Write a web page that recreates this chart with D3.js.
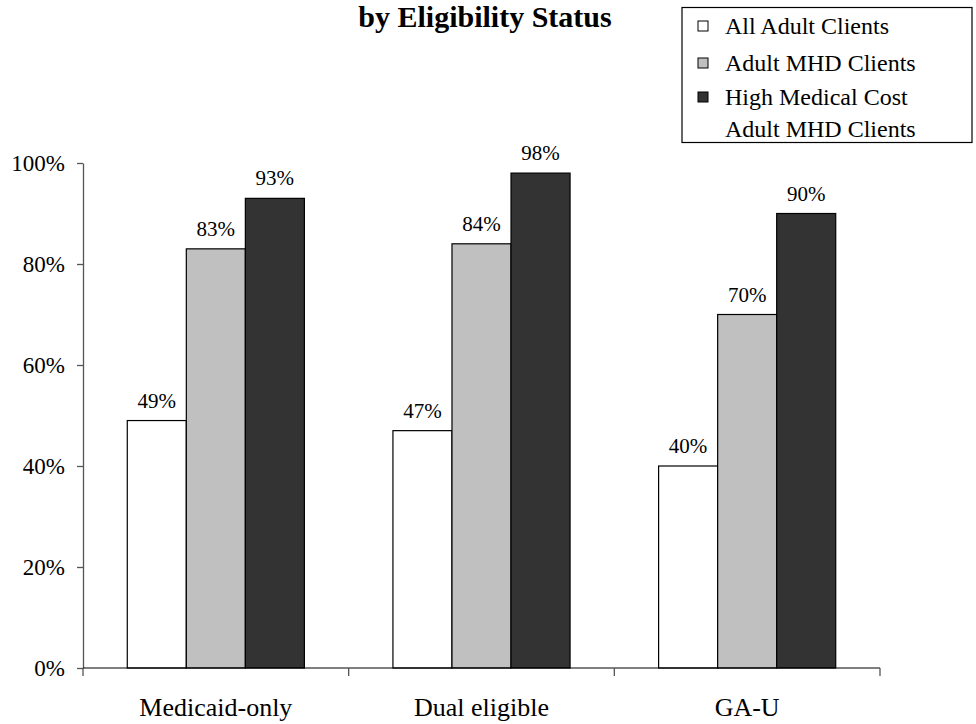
<!DOCTYPE html>
<html>
<head>
<meta charset="utf-8">
<script src="https://cdn.jsdelivr.net/npm/d3@7"></script>
<style>
  html, body { margin: 0; padding: 0; background: #fff; }
  svg text { font-family: "Liberation Serif", "Times New Roman", serif; fill: #000; }
</style>
</head>
<body>
<svg id="chart" width="976" height="724"></svg>
<script>
// Eligibility groups along the x axis
const categories = ["Medicaid-only", "Dual eligible", "GA-U"];
// Client populations, one bar per group
const seriesNames = ["All Adult Clients", "Adult MHD Clients", "High Medical Cost Adult MHD Clients"];
// Share of clients in each group (fraction)
const allAdult = [0.49, 0.47, 0.40];
const adultMHD = [0.83, 0.84, 0.70];
const highCostMHD = [0.93, 0.98, 0.90];
// Y axis tick values
const yTicks = [0, 0.2, 0.4, 0.6, 0.8, 1.0];

const seriesValues = [allAdult, adultMHD, highCostMHD];
const fills = ["#ffffff", "#c0c0c0", "#333333"];

const svg = d3.select("#chart");

const plotLeft = 83, plotRight = 880, plotTop = 163, plotBottom = 668;

const y = d3.scaleLinear().domain([0, 1]).range([plotBottom, plotTop]);
const x0 = d3.scaleBand().domain(categories).range([plotLeft, plotRight]).padding(0);
const x1 = d3.scaleBand().domain(d3.range(seriesNames.length))
  .range([0, x0.bandwidth()]).paddingInner(0).paddingOuter(0.75);

// Title (second line of the heading)
svg.append("text")
  .attr("x", 485).attr("y", 27)
  .attr("text-anchor", "middle")
  .style("font-size", "30px").style("font-weight", "bold")
  .text("by Eligibility Status");

// Bars
const groups = svg.append("g").selectAll("g")
  .data(categories).join("g")
  .attr("transform", c => `translate(${x0(c)},0)`);

groups.selectAll("rect")
  .data((c, ci) => seriesValues.map((vals, si) => ({ si, v: vals[ci] })))
  .join("rect")
  .attr("x", d => x1(d.si))
  .attr("width", x1.bandwidth())
  .attr("y", d => y(d.v))
  .attr("height", d => y(0) - y(d.v))
  .attr("fill", d => fills[d.si])
  .attr("stroke", "#000")
  .attr("stroke-width", 1.2);

// Value labels above bars
groups.selectAll("text.val")
  .data((c, ci) => seriesValues.map((vals, si) => ({ si, v: vals[ci] })))
  .join("text")
  .attr("class", "val")
  .attr("x", d => x1(d.si) + x1.bandwidth() / 2)
  .attr("y", d => y(d.v) - 13)
  .attr("text-anchor", "middle")
  .style("font-size", "21px")
  .text(d => d3.format(".0%")(d.v));

// Y axis
const yAxis = svg.append("g")
  .attr("transform", `translate(${plotLeft},0)`)
  .call(d3.axisLeft(y).tickValues(yTicks).tickFormat(d3.format(".0%")).tickSize(6).tickSizeOuter(0).tickPadding(12));
yAxis.select(".domain").attr("stroke", "#555").attr("stroke-width", 1.3);
yAxis.selectAll(".tick line").attr("stroke", "#555").attr("stroke-width", 1.3);
yAxis.selectAll(".tick text")
  .style("font-size", "23px")
  .attr("font-family", null);

// X axis: baseline, group separator ticks and group labels
const xAxis = svg.append("g").attr("transform", `translate(0,${plotBottom})`);
xAxis.append("line")
  .attr("x1", plotLeft).attr("x2", plotRight)
  .attr("stroke", "#000").attr("stroke-width", 1.2);
const boundaries = categories.map(c => x0(c)).concat([x0(categories[categories.length - 1]) + x0.bandwidth()]);
xAxis.selectAll("line.sep").data(boundaries).join("line")
  .attr("class", "sep")
  .attr("x1", d => d).attr("x2", d => d)
  .attr("y1", 0).attr("y2", 8)
  .attr("stroke", "#555").attr("stroke-width", 1.3);
xAxis.selectAll("text").data(categories).join("text")
  .attr("x", c => x0(c) + x0.bandwidth() / 2)
  .attr("y", 48)
  .attr("text-anchor", "middle")
  .style("font-size", "26px")
  .text(c => c);

// Legend
const legend = svg.append("g");
legend.append("rect")
  .attr("x", 682).attr("y", 7.5).attr("width", 290).attr("height", 135)
  .attr("fill", "#fff").attr("stroke", "#000").attr("stroke-width", 1.2);
const legendRows = [
  { si: 0, lines: ["All Adult Clients"], y: 34 },
  { si: 1, lines: ["Adult MHD Clients"], y: 71 },
  { si: 2, lines: ["High Medical Cost", "Adult MHD Clients"], y: 105 }
];
const rows = legend.selectAll("g.row").data(legendRows).join("g").attr("class", "row");
rows.append("rect")
  .attr("x", 698).attr("y", d => d.y - 13)
  .attr("width", 10).attr("height", 10)
  .attr("fill", d => fills[d.si]).attr("stroke", "#000").attr("stroke-width", 1);
rows.append("text")
  .attr("x", 725).attr("y", d => d.y)
  .style("font-size", "24px")
  .selectAll("tspan").data(d => d.lines).join("tspan")
  .attr("x", 725).attr("dy", (l, i) => i === 0 ? 0 : 32)
  .text(l => l);
</script>
</body>
</html>
